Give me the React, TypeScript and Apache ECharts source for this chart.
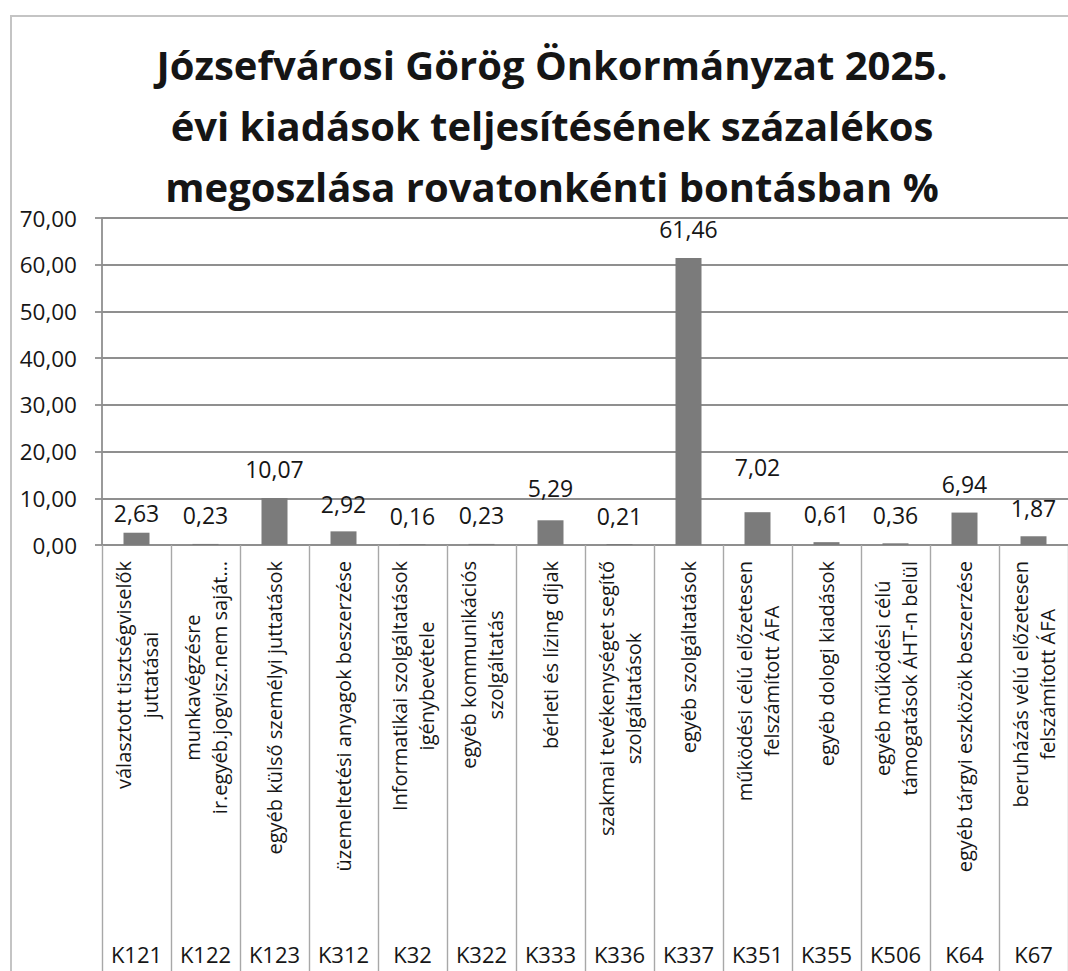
import React, { useEffect, useRef } from "react";
import * as echarts from "echarts";

const titleLines = [
  "Józsefvárosi Görög Önkormányzat 2025.",
  "évi kiadások teljesítésének százalékos",
  "megoszlása rovatonkénti bontásban %",
];

const codes = ["K121", "K122", "K123", "K312", "K32", "K322", "K333", "K336", "K337", "K351", "K355", "K506", "K64", "K67"];

const names = [
  "választott tisztségviselők\njuttatásai",
  "munkavégzésre\nir.egyéb.jogvisz.nem saját…",
  "egyéb külső személyi juttatások",
  "üzemeltetési anyagok beszerzése",
  "Informatikai szolgáltatások\nigénybevétele",
  "egyéb kommunikációs\nszolgáltatás",
  "bérleti és lízing díjak",
  "szakmai tevékenységet segítő\nszolgáltatások",
  "egyéb szolgáltatások",
  "működési célú előzetesen\nfelszámított ÁFA",
  "egyéb dologi kiadások",
  "egyéb működési célú\ntámogatások ÁHT-n belül",
  "egyéb tárgyi eszközök beszerzése",
  "beruházás vélú előzetesen\nfelszámított ÁFA",
];

const values = [2.63, 0.23, 10.07, 2.92, 0.16, 0.23, 5.29, 0.21, 61.46, 7.02, 0.61, 0.36, 6.94, 1.87];

const yTicks = { min: 0, max: 70, interval: 10 };

// label lift adjustments (styling only)
const labelDistance: Record<string, number> = { K121: 8, K351: 34, K312: 16, K333: 21 };

const FONT = "'Open Sans', Lato, sans-serif";
const TXT = "#161616";
const GRID_C = "#8f8f8f";

const fmt = (v: number) => v.toFixed(2).replace(".", ",");

export default function App() {
  const ref = useRef<HTMLDivElement>(null);
  useEffect(() => {
    if (!ref.current) return;
    const chart = echarts.init(ref.current, null, { renderer: "svg" });
    const option = {
      animation: false,
      backgroundColor: "#ffffff",
      title: {
        text: titleLines.join("\n"),
        left: 547,
        top: 29,
        textAlign: "center",
        textStyle: {
          fontFamily: FONT,
          fontWeight: "bold",
          fontSize: 40,
          lineHeight: 61,
          color: "#151515",
        },
      },
      graphic: [
        { type: "line", shape: { x1: 11, y1: 15, x2: 11, y2: 971 }, style: { stroke: "#c4c4c4", lineWidth: 2 } },
        { type: "line", shape: { x1: 10, y1: 16, x2: 1068, y2: 16 }, style: { stroke: "#c4c4c4", lineWidth: 2 } },
      ],
      grid: { left: 102, top: 218, width: 969, height: 327 },
      xAxis: [
        {
          type: "category",
          data: names,
          position: "bottom",
          axisLine: { show: true, lineStyle: { color: GRID_C, width: 1.8 } },
          axisTick: { show: true, length: 426, lineStyle: { color: "#a8a8a8", width: 1.4 } },
          splitLine: { show: false },
          axisLabel: {
            interval: 0,
            rotate: 90,
            margin: 16,
            color: TXT,
            fontFamily: FONT,
            fontSize: 20,
            lineHeight: 27,
            formatter: (v: string) =>
              v
                .split("\n")
                .map((l) => `{c|${l}}`)
                .join("\n"),
            rich: {
              c: { align: "center", color: TXT, fontFamily: FONT, fontSize: 20, lineHeight: 27 },
            },
          },
        },
        {
          type: "category",
          data: codes,
          position: "bottom",
          offset: 398,
          axisLine: { show: false },
          axisTick: { show: false },
          axisLabel: {
            interval: 0,
            margin: 0,
            color: TXT,
            fontFamily: FONT,
            fontSize: 22,
          },
        },
      ],
      yAxis: {
        type: "value",
        min: yTicks.min,
        max: yTicks.max,
        interval: yTicks.interval,
        axisLine: { show: true, lineStyle: { color: GRID_C, width: 1.8 } },
        axisTick: { show: true, length: 7, lineStyle: { color: GRID_C, width: 1.8 } },
        splitLine: { show: true, lineStyle: { color: GRID_C, width: 1.8 } },
        axisLabel: {
          margin: 25,
          color: TXT,
          fontFamily: FONT,
          fontSize: 22.5,
          formatter: (v: number) => fmt(v),
        },
      },
      series: [
        {
          type: "bar",
          xAxisIndex: 0,
          barWidth: 26,
          itemStyle: { color: "#7b7b7b" },
          data: values.map((v, i) => ({
            value: v,
            label: { distance: labelDistance[codes[i]] ?? 17 },
          })),
          label: {
            show: true,
            position: "top",
            distance: 17,
            color: TXT,
            fontFamily: FONT,
            fontSize: 23,
            formatter: (p: any) => fmt(p.value),
          },
        },
      ],
    };
    chart.setOption(option as any);
    return () => chart.dispose();
  }, []);
  return (
    <div
      ref={ref}
      style={{ position: "fixed", left: 0, top: 0, width: 1068, height: 971, background: "#fff" }}
    />
  );
}
